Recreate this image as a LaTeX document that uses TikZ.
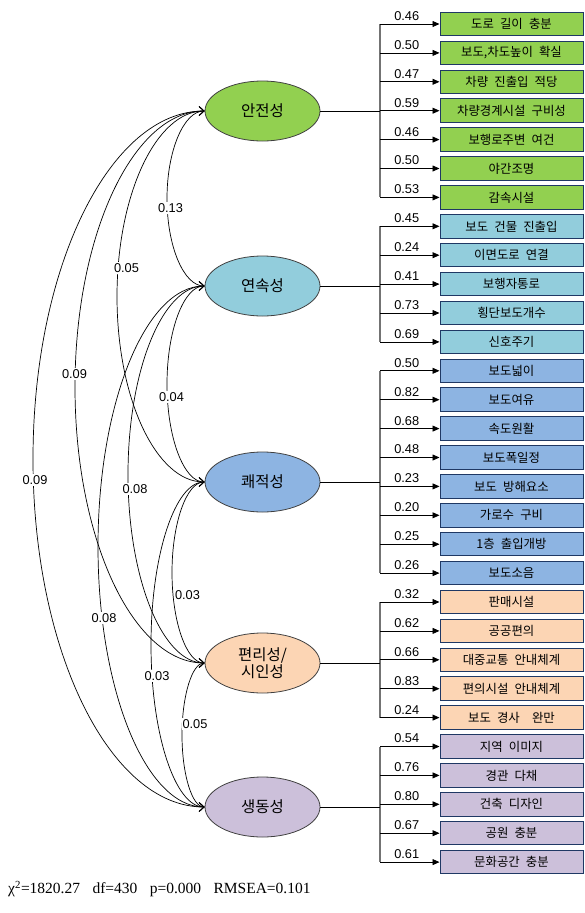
\documentclass[tikz,border=0pt]{standalone}
\usepackage{fontspec}
\setmainfont{Liberation Sans}
\newfontfamily\kr[WordSpace=2.2]{Noto Sans CJK KR}
\newfontfamily\serifnum[WordSpace=1.6]{Liberation Serif}
\usetikzlibrary{arrows.meta,shapes.geometric,calc}
\definecolor{cG}{HTML}{92D050}
\definecolor{cC}{HTML}{92CDDC}
\definecolor{cB}{HTML}{8DB4E2}
\definecolor{cP}{HTML}{FCD5B4}
\definecolor{cV}{HTML}{CCC0DA}
\definecolor{navy}{HTML}{1F3864}
\newcommand\covarc[5]{%
  \pgfmathsetmacro\rx{205-#5}%
  \pgfmathsetmacro\ry{(#4-#3)/2}%
  \pgfmathsetmacro\ym{(#4+#3)/2}%
  \draw[cov] (#1.west) .. controls ({205-0.5523*\rx},#3) and (#5,{\ym-0.5523*\ry}) .. (#5,\ym)
    .. controls (#5,{\ym+0.5523*\ry}) and ({205-0.5523*\rx},#4) .. (#2.west);}
\begin{document}
\begin{tikzpicture}[x=1pt,y=-1pt,
  ind/.style={draw=navy,line width=1pt,rectangle,minimum width=143pt,minimum height=23.5pt,inner sep=0pt,font=\kr\fontsize{12.4}{12.4}\selectfont},
  fac/.style={ellipse,draw=black!75,line width=0.8pt,minimum width=115pt,minimum height=60pt,inner sep=0pt,font=\kr\fontsize{15.5}{17}\selectfont,align=center},
  ld/.style={font=\fontsize{12.8}{13}\selectfont,inner sep=0pt},
  br/.style={line width=0.8pt,-{Triangle[length=7pt,width=6pt]}},
  bar/.style={draw=black!55,line width=1.5pt},
  jn/.style={line width=0.9pt},
  cov/.style={line width=0.7pt,{Straight Barb[length=5pt,width=9pt]}-{Straight Barb[length=5pt,width=9pt]}},
  cl/.style={fill=white,inner sep=1pt,font=\fontsize{12.8}{13}\selectfont}]
\useasboundingbox (0,0) rectangle (585,913);
% factors
\node[fac,fill=cG] (f1) at (262.5,111) {안전성};
\node[fac,fill=cC] (f2) at (262.5,286) {연속성};
\node[fac,fill=cB] (f3) at (262.5,482) {쾌적성};
\node[fac,fill=cP] (f4) at (262.5,663) {편리성/\\시인성};
\node[fac,fill=cV] (f5) at (262.5,807) {생동성};
% junction coordinates
\coordinate (j1) at (380,111);
\coordinate (j2) at (380,286);
\coordinate (j3) at (380,482);
\coordinate (j4) at (380,663);
\coordinate (j5) at (380,807);
% indicators
\foreach \i/\v/\t/\c/\g in {
 0/0.46/도로 길이 충분/cG/1,
 1/0.50/{보도,차도높이 확실}/cG/1,
 2/0.47/차량 진출입 적당/cG/1,
 3/0.59/차량경계시설 구비성/cG/1,
 4/0.46/보행로주변 여건/cG/1,
 5/0.50/야간조명/cG/1,
 6/0.53/감속시설/cG/1,
 7/0.45/보도 건물 진출입/cC/2,
 8/0.24/이면도로 연결/cC/2,
 9/0.41/보행자통로/cC/2,
 10/0.73/횡단보도개수/cC/2,
 11/0.69/신호주기/cC/2,
 12/0.50/보도넓이/cB/3,
 13/0.82/보도여유/cB/3,
 14/0.68/속도원활/cB/3,
 15/0.48/보도폭일정/cB/3,
 16/0.23/보도 방해요소/cB/3,
 17/0.20/가로수 구비/cB/3,
 18/0.25/1층 출입개방/cB/3,
 19/0.26/보도소음/cB/3,
 20/0.32/판매시설/cP/4,
 21/0.62/공공편의/cP/4,
 22/0.66/대중교통 안내체계/cP/4,
 23/0.83/편의시설 안내체계/cP/4,
 24/0.24/보도 경사~~완만/cP/4,
 25/0.54/지역 이미지/cV/5,
 26/0.76/경관 다채/cV/5,
 27/0.80/건축 디자인/cV/5,
 28/0.67/공원 충분/cV/5,
 29/0.61/문화공간 충분/cV/5}{
  \node[ind,fill=\c] (b\i) at (511.5,{24+28.9*\i}) {\t};
}
% bars
\draw[bar] (j1 |- b0.west) -- (j1 |- b6.west);
\draw[bar] (j2 |- b7.west) -- (j2 |- b11.west);
\draw[bar] (j3 |- b12.west) -- (j3 |- b19.west);
\draw[bar] (j4 |- b20.west) -- (j4 |- b24.west);
\draw[bar] (j5 |- b25.west) -- (j5 |- b29.west);
\foreach \g in {1,...,5}{\draw[jn] (f\g.east) -- (j\g);}
% branches
\foreach \i/\v/\g in {0/0.46/1,1/0.50/1,2/0.47/1,3/0.59/1,4/0.46/1,5/0.50/1,6/0.53/1,
 7/0.45/2,8/0.24/2,9/0.41/2,10/0.73/2,11/0.69/2,
 12/0.50/3,13/0.82/3,14/0.68/3,15/0.48/3,16/0.23/3,17/0.20/3,18/0.25/3,19/0.26/3,
 20/0.32/4,21/0.62/4,22/0.66/4,23/0.83/4,24/0.24/4,
 25/0.54/5,26/0.76/5,27/0.80/5,28/0.67/5,29/0.61/5}{
  \draw[br] (j\g |- b\i.west) -- node[ld,above=3pt,xshift=-3pt] {\v} (b\i.west);
}
% covariances
\covarc{f1}{f2}{111}{286}{167}
\covarc{f1}{f3}{111}{482}{117}
\covarc{f1}{f4}{111}{663}{75}
\covarc{f1}{f5}{111}{807}{33}
\covarc{f2}{f3}{286}{482}{167}
\covarc{f2}{f4}{286}{663}{128}
\covarc{f2}{f5}{286}{807}{98}
\covarc{f3}{f4}{482}{663}{172}
\covarc{f3}{f5}{482}{807}{151}
\covarc{f4}{f5}{663}{807}{182}
\node[cl] (c12) at (170.5,208) {0.13};
\node[cl] (c13) at (126.5,268) {0.05};
\node[cl] (c14) at (74.5,374) {0.09};
\node[cl] (c15) at (35,480) {0.09};
\node[cl] (c23) at (171.5,397) {0.04};
\node[cl] (c24) at (135,489) {0.08};
\node[cl] (c25) at (104,618) {0.08};
\node[cl] (c34) at (187.5,595) {0.03};
\node[cl] (c35) at (157,676) {0.03};
\node[cl] (c45) at (195,724) {0.05};
% fit statistics
\node[anchor=west,inner sep=0pt,font=\serifnum\fontsize{15.5}{15.5}\selectfont] (fitstat) at (8,889)
  {χ\textsuperscript{2}=1820.27\ \ df=430\ \ p=0.000\ \ RMSEA=0.101};
\end{tikzpicture}
\end{document}
